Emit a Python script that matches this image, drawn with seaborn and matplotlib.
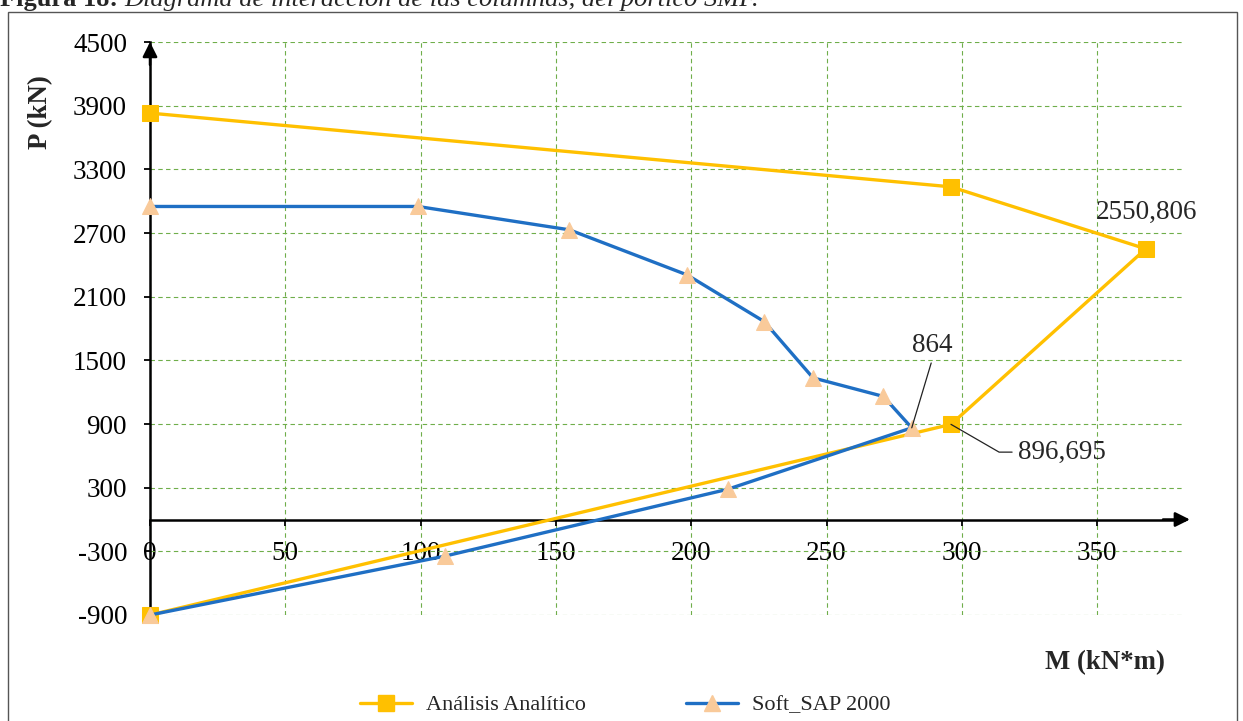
import matplotlib
matplotlib.use("Agg")
import matplotlib.pyplot as plt
import seaborn as sns
import pandas as pd
from matplotlib.lines import Line2D
from matplotlib.patches import Rectangle

# Interaction diagram of the SMF frame columns: moment M (kN*m) vs axial load P (kN)
m_analitico = [0, 296, 368, 296, 0]
p_analitico = [3830, 3135, 2550.806, 896.695, -900]

m_sap = [0, 99, 155, 198.5, 227, 245, 271, 281.5, 213.5, 109, 0]
p_sap = [2950, 2950, 2730, 2305, 1865, 1335, 1160, 864, 285, -345, -900]

x_ticks = [0, 50, 100, 150, 200, 250, 300, 350]
y_ticks = [-900, -300, 300, 900, 1500, 2100, 2700, 3300, 3900, 4500]

series_names = ["Análisis Analítico", "Soft_SAP 2000"]
label_2550 = "2550,806"
label_864 = "864"
label_896 = "896,695"

YELLOW = "#FFC000"
BLUE = "#1F6FC4"
PEACH = "#F9CA9A"
GRID = "#6FAE4A"

sns.set_style("white")
plt.rcParams["font.family"] = ["Liberation Serif", "DejaVu Serif"]
plt.rcParams["axes.unicode_minus"] = False

W, H = 1243, 721
fig = plt.figure(figsize=(W / 100, H / 100), dpi=100)
ax = fig.add_axes([150 / W, 106 / H, 1033.7 / W, 573 / H])

df_a = pd.DataFrame({"M": m_analitico, "P": p_analitico})
df_s = pd.DataFrame({"M": m_sap, "P": p_sap})

sns.lineplot(data=df_a, x="M", y="P", sort=False, estimator=None, ax=ax,
             color=YELLOW, lw=2.4, marker="s", markersize=12,
             markerfacecolor=YELLOW, markeredgecolor=YELLOW, zorder=3,
             clip_on=False)
sns.lineplot(data=df_s, x="M", y="P", sort=False, estimator=None, ax=ax,
             color=BLUE, lw=2.4, marker="^", markersize=11,
             markerfacecolor=PEACH, markeredgecolor=PEACH, zorder=4,
             clip_on=False)

ax.set_xlim(0, 382)
ax.set_ylim(-900, 4500)
ax.set_xticks(x_ticks)
ax.set_yticks(y_ticks)
ax.set_xlabel("")
ax.set_ylabel("")

ax.grid(True, color=GRID, linestyle=(0, (4, 3)), linewidth=0.8)
ax.set_axisbelow(True)

for s in ("top", "right"):
    ax.spines[s].set_visible(False)
ax.spines["bottom"].set_position(("data", 0))
for s in ("left", "bottom"):
    ax.spines[s].set_color("black")
    ax.spines[s].set_linewidth(1.8)
    ax.spines[s].set_zorder(2)

ax.tick_params(axis="both", which="both", direction="out", length=4.5,
               width=1.3, color="black", labelsize=19.5, labelcolor="black")
ax.tick_params(axis="y", pad=12, left=True)
ax.tick_params(axis="x", pad=11, bottom=True)

# arrow heads on both axes
ax.annotate("", xy=(1.006, 0), xycoords=("axes fraction", "data"),
            xytext=(0.98, 0), textcoords=("axes fraction", "data"),
            arrowprops=dict(arrowstyle="-|>", color="black", lw=1.8,
                            mutation_scale=22, shrinkA=0, shrinkB=0),
            annotation_clip=False)
ax.annotate("", xy=(0, 1.0), xycoords="axes fraction",
            xytext=(0, 0.96), textcoords="axes fraction",
            arrowprops=dict(arrowstyle="-|>", color="black", lw=1.8,
                            mutation_scale=22, shrinkA=0, shrinkB=0),
            annotation_clip=False)

# axis titles
fig.text(41 / W, 1 - 112 / H, "P (kN)", rotation=90, ha="center", va="center",
         fontsize=19.3, fontweight="bold")
fig.text(1105 / W, 1 - 663 / H, "M (kN*m)", ha="center", va="center",
         fontsize=19.3, fontweight="bold")

# value labels
ax.annotate(label_2550, xy=(m_analitico[2], p_analitico[2]), xytext=(0.5, 26),
            textcoords="offset points", ha="center", va="center", fontsize=19.5)
ax.annotate(label_864, xy=(m_sap[7], p_sap[7]), xytext=(15, 59),
            textcoords="offset points", ha="center", va="center", fontsize=19.5,
            arrowprops=dict(arrowstyle="-", color="#222222", lw=0.9,
                            shrinkA=1, shrinkB=0, relpos=(0.5, 0.0)), zorder=6)
ax.annotate(label_896, xy=(m_analitico[3], p_analitico[3]), xytext=(80, -20),
            textcoords="offset points", ha="center", va="center", fontsize=19.5,
            arrowprops=dict(arrowstyle="-", color="#222222", lw=0.9,
                            shrinkA=2, shrinkB=0, relpos=(0.0, 0.5),
                            connectionstyle="angle,angleA=0,angleB=-30,rad=0"),
            zorder=6)

# legend below the plot
handles = [
    Line2D([], [], color=YELLOW, lw=2.4, marker="s", markersize=12,
           markerfacecolor=YELLOW, markeredgecolor=YELLOW),
    Line2D([], [], color=BLUE, lw=2.4, marker="^", markersize=11,
           markerfacecolor=PEACH, markeredgecolor=PEACH),
]
fig.legend(handles, series_names, loc="center", bbox_to_anchor=(625 / W, 1 - 705 / H),
           ncol=2, frameon=False, fontsize=16, handlelength=2.35,
           handletextpad=0.63, columnspacing=4.5)

# page frame and the caption line running above it
fig.patches.append(Rectangle((8 / W, -0.02), (1237 - 8) / W, (H - 12) / H + 0.02,
                             transform=fig.transFigure, fill=False,
                             edgecolor="#555555", lw=1.0))
cap1 = fig.text(0.0, 1 - 6 / H, "Figura 18: ", ha="left", va="baseline",
                fontsize=19, fontweight="bold")
fig.canvas.draw()
bb = cap1.get_window_extent()
fig.text(bb.x1 / W, 1 - 6 / H,
         "Diagrama de interacción de las columnas, del pórtico SMF.",
         ha="left", va="baseline", fontsize=19, fontstyle="italic")

fig.savefig("out.png", dpi=100)
